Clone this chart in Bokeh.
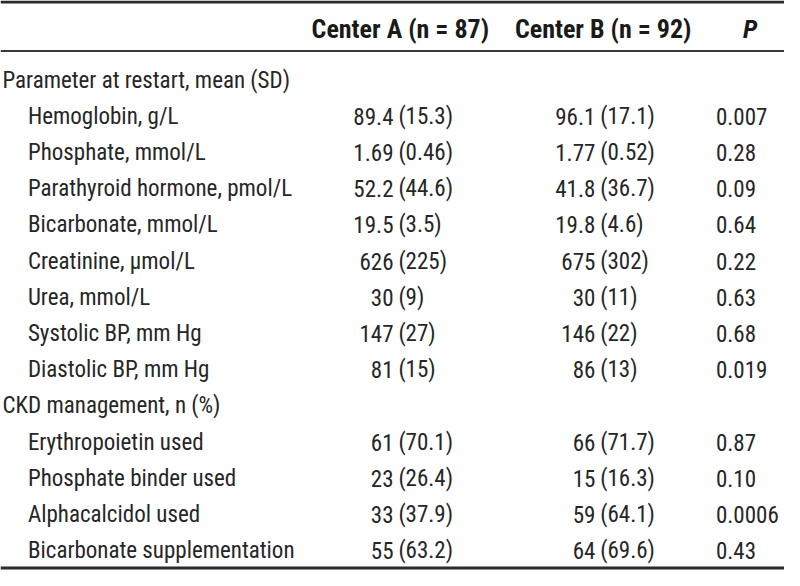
from bokeh.plotting import figure
from bokeh.models import ColumnDataSource, Range1d
from bokeh.core.properties import value
from bokeh.embed import file_html
from bokeh.resources import INLINE

# ---- table data ----
column_headers = ["Center A (n = 87)", "Center B (n = 92)", "P"]

section1 = "Parameter at restart, mean (SD)"
param_labels = ["Hemoglobin, g/L", "Phosphate, mmol/L", "Parathyroid hormone, pmol/L",
                "Bicarbonate, mmol/L", "Creatinine, \u00b5mol/L", "Urea, mmol/L",
                "Systolic BP, mm Hg", "Diastolic BP, mm Hg"]
param_a_mean = ["89.4", "1.69", "52.2", "19.5", "626", "30", "147", "81"]
param_a_sd = ["(15.3)", "(0.46)", "(44.6)", "(3.5)", "(225)", "(9)", "(27)", "(15)"]
param_b_mean = ["96.1", "1.77", "41.8", "19.8", "675", "30", "146", "86"]
param_b_sd = ["(17.1)", "(0.52)", "(36.7)", "(4.6)", "(302)", "(11)", "(22)", "(13)"]
param_p = ["0.007", "0.28", "0.09", "0.64", "0.22", "0.63", "0.68", "0.019"]

section2 = "CKD management, n (%)"
mgmt_labels = ["Erythropoietin used", "Phosphate binder used", "Alphacalcidol used",
               "Bicarbonate supplementation"]
mgmt_a_n = ["61", "23", "33", "55"]
mgmt_a_pct = ["(70.1)", "(26.4)", "(37.9)", "(63.2)"]
mgmt_b_n = ["66", "15", "59", "64"]
mgmt_b_pct = ["(71.7)", "(16.3)", "(64.1)", "(69.6)"]
mgmt_p = ["0.87", "0.10", "0.0006", "0.43"]

# ---- layout ----
FONT = "Roboto Condensed"
FS = "23px"
HFS = "26px"
COLOR = "#262626"
ROW0 = 82.0
PITCH = 37.2

p = figure(width=784, height=570, output_backend="svg", toolbar_location=None,
           x_range=Range1d(0, 800), y_range=Range1d(586, 0), min_border=0)
p.axis.visible = False
p.grid.visible = False
p.outline_line_color = None
p.background_fill_color = "white"
p.border_fill_color = "white"

# rules
p.segment(x0=[0], x1=[800], y0=[1.5], y1=[1.5], line_color="#2b2b2b", line_width=3)
p.segment(x0=[0], x1=[800], y0=[52], y1=[52], line_color="#3a3a3a", line_width=2)
p.segment(x0=[0], x1=[800], y0=[583.5], y1=[583.5], line_color="#2b2b2b", line_width=3)

# header
hdr = ColumnDataSource(dict(x=[408, 615], y=[29, 29], t=column_headers[:2]))
p.text(x="x", y="y", text="t", source=hdr, text_align="center", text_baseline="middle",
       text_font=value(FONT), text_font_size=HFS, text_font_style="bold", text_color="#1a1a1a")
p.text(x=[765], y=[29], text=[column_headers[2]], text_align="center", text_baseline="middle",
       text_font=value(FONT), text_font_size=HFS, text_font_style="bold italic", text_color="#1a1a1a")

# rows
labels, indent, am, asd, bm, bsd, pv = [], [], [], [], [], [], []
labels.append(section1); indent.append(False); am.append(""); asd.append(""); bm.append(""); bsd.append(""); pv.append("")
for i in range(len(param_labels)):
    labels.append(param_labels[i]); indent.append(True)
    am.append(param_a_mean[i]); asd.append(param_a_sd[i])
    bm.append(param_b_mean[i]); bsd.append(param_b_sd[i]); pv.append(param_p[i])
labels.append(section2); indent.append(False); am.append(""); asd.append(""); bm.append(""); bsd.append(""); pv.append("")
for i in range(len(mgmt_labels)):
    labels.append(mgmt_labels[i]); indent.append(True)
    am.append(mgmt_a_n[i]); asd.append(mgmt_a_pct[i])
    bm.append(mgmt_b_n[i]); bsd.append(mgmt_b_pct[i]); pv.append(mgmt_p[i])

ys = [ROW0 + PITCH * k for k in range(len(labels))]
lx = [28 if ind else 2 for ind in indent]

src = ColumnDataSource(dict(y=ys, lx=lx, label=labels, am=am, asd=asd, bm=bm, bsd=bsd, pv=pv,
                            xam=[401] * len(ys), xasd=[406] * len(ys),
                            xbm=[607] * len(ys), xbsd=[612] * len(ys), xp=[730] * len(ys)))
common = dict(source=src, y="y", text_baseline="middle", text_font=value(FONT),
              text_font_size=FS, text_color=COLOR)
p.text(x="lx", text="label", text_align="left", **common)
p.text(x="xam", text="am", text_align="right", **common)
p.text(x="xasd", text="asd", text_align="left", **common)
p.text(x="xbm", text="bm", text_align="right", **common)
p.text(x="xbsd", text="bsd", text_align="left", **common)
p.text(x="xp", text="pv", text_align="left", **common)

open("out.html", "w").write(file_html(p, INLINE))
